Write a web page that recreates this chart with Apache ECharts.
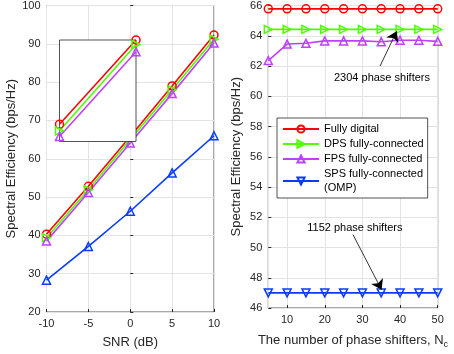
<!DOCTYPE html>
<html>
<head>
<meta charset="utf-8">
<script src="https://cdn.jsdelivr.net/npm/echarts@6/dist/echarts.min.js"></script>
<style>
  html, body { margin: 0; padding: 0; background: #fff; }
  #chart { width: 454px; height: 354px; }
</style>
</head>
<body>
<div id="chart"></div>
<script>
// left panel: SE vs SNR
const snr = [-10, -5, 0, 5, 10];
const fdSnr = [40.3, 52.8, 65.8, 79.0, 92.3];
const dpsSnr = [39.4, 51.9, 65.0, 78.0, 91.2];
const fpsSnr = [38.5, 51.2, 64.1, 77.0, 90.2];
const spsSnr = [28.3, 37.1, 46.3, 56.3, 66.0];

// magnified inset (local units)
const insetX = [0, 1];
const fdInset = [17, 100];
const dpsInset = [10.5, 95.5];
const fpsInset = [5, 88.5];

// right panel: SE vs number of phase shifters
const nc = [5, 10, 15, 20, 25, 30, 35, 40, 45, 50];
const fdNc = [65.78, 65.78, 65.78, 65.78, 65.78, 65.78, 65.78, 65.78, 65.78, 65.78];
const dpsNc = [64.42, 64.42, 64.42, 64.42, 64.42, 64.42, 64.42, 64.42, 64.42, 64.42];
const fpsNc = [62.36, 63.45, 63.5, 63.66, 63.66, 63.66, 63.6, 63.7, 63.7, 63.63];
const spsNc = [47.0, 47.0, 47.0, 47.0, 47.0, 47.0, 47.0, 47.0, 47.0, 47.0];

const names = ['Fully digital', 'DPS fully-connected', 'FPS fully-connected', 'SPS fully-connected\n(OMP)'];
const colors = ['#ff0000', '#4dff00', '#bf40ff', '#0a3cff'];

const txt = '#262626';
const gridCol = '#e3e3e3';
const font = 'Liberation Sans, Arial, sans-serif';

const chart = echarts.init(document.getElementById('chart'));

const pair = (xs, ys) => xs.map((x, i) => [x, ys[i]]);

function line(name, color, data, symbol, rotate, x, y, extra) {
  return Object.assign({
    type: 'line', name: name, data: data,
    xAxisIndex: x, yAxisIndex: y,
    symbol: symbol, symbolSize: 8, symbolRotate: rotate,
    showAllSymbol: true,
    lineStyle: { color: color, width: 1.6 },
    itemStyle: { color: 'rgba(255,255,255,0)', borderColor: color, borderWidth: 1.5 },
    emphasis: { disabled: true },
    animation: false, z: 3
  }, extra || {});
}

// arrow + text annotation
function note(text, from, to, at) {
  return {
    markLine: {
      silent: true, z: 10, symbol: ['none', 'arrow'], symbolSize: 10,
      label: { show: false },
      itemStyle: { color: '#000' },
      lineStyle: { color: '#000', width: 0.8, type: 'solid' },
      data: [[{ coord: from }, { coord: to }]]
    },
    markPoint: {
      silent: true, symbol: 'circle', symbolSize: 0,
      label: { show: true, position: 'inside', color: '#000', fontSize: 11, fontFamily: font, formatter: text },
      data: [{ coord: at }]
    }
  };
}

function valueAxis(idx, min, max, interval, name, gap, extra) {
  return Object.assign({
    type: 'value', gridIndex: idx, min: min, max: max, interval: interval,
    name: name, nameLocation: 'middle', nameGap: gap,
    nameTextStyle: { color: txt, fontSize: 13, fontFamily: font },
    axisLine: { show: false },
    axisTick: { show: true, inside: true, length: 3, lineStyle: { color: txt } },
    axisLabel: { color: txt, fontSize: 11, fontFamily: font, margin: 6 },
    splitLine: { show: true, lineStyle: { color: gridCol, width: 1 } }
  }, extra || {});
}

const option = {
  animation: false,
  backgroundColor: '#fff',
  grid: [
    { left: 46.5, top: 5, width: 167.5, height: 308, show: true, borderColor: txt, borderWidth: 0.8, backgroundColor: '#fff' },
    { left: 268.3, top: 5, width: 169.4, height: 308, show: true, borderColor: txt, borderWidth: 0.8, backgroundColor: '#fff' },
    { left: 59.5, top: 40, width: 76.5, height: 101.5, show: true, borderColor: txt, borderWidth: 0.8, backgroundColor: '#fff', zlevel: 1 }
  ],
  xAxis: [
    valueAxis(0, -10, 10, 5, 'SNR (dB)', 24),
    valueAxis(1, 5, 50, null, 'The number of phase shifters, N{sub|c}', 24, {
      splitNumber: 5,
      axisLabel: { color: txt, fontSize: 11, fontFamily: font, margin: 6, showMinLabel: false },
      nameTextStyle: { color: txt, fontSize: 13, fontFamily: font,
        rich: { sub: { fontSize: 9, fontFamily: font, color: txt, padding: [8, 0, 0, 0] } } }
    }),
    { type: 'value', gridIndex: 2, min: 0, max: 1, zlevel: 1,
      axisLine: { show: false }, axisTick: { show: false }, axisLabel: { show: false }, splitLine: { show: false } }
  ],
  yAxis: [
    valueAxis(0, 20, 100, 10, 'Spectral Efficiency (bps/Hz)', 29),
    valueAxis(1, 46, 66, 2, 'Spectral Efficiency (bps/Hz)', 25),
    { type: 'value', gridIndex: 2, min: 0, max: 100, zlevel: 1,
      axisLine: { show: false }, axisTick: { show: false }, axisLabel: { show: false }, splitLine: { show: false } }
  ],
  legend: {
    left: 277, top: 118, orient: 'vertical',
    data: names,
    itemWidth: 36, itemHeight: 9, itemGap: 1,
    padding: [4, 4, 3, 5],
    backgroundColor: '#fff', borderColor: txt, borderWidth: 0.8,
    textStyle: { color: '#000', fontSize: 11, fontFamily: font, lineHeight: 14 },
    selectedMode: false
  },
  series: [
    // right panel first so legend picks its markers
    line(names[0], colors[0], pair(nc, fdNc), 'circle', 0, 1, 1),
    line(names[1], colors[1], pair(nc, dpsNc), 'triangle', -90, 1, 1,
      note('2304 phase shifters', [34.7, 62.0], [39.1, 64.3], [35.2, 61.2])),
    line(names[2], colors[2], pair(nc, fpsNc), 'triangle', 0, 1, 1),
    line(names[3], colors[3], pair(nc, spsNc), 'triangle', 180, 1, 1,
      note('1152 phase shifters', [27.5, 50.85], [35.1, 47.2], [28, 51.3])),
    // left panel
    line(names[0], colors[0], pair(snr, fdSnr), 'circle', 0, 0, 0),
    line(names[1], colors[1], pair(snr, dpsSnr), 'triangle', -90, 0, 0),
    line(names[2], colors[2], pair(snr, fpsSnr), 'triangle', 0, 0, 0),
    line(names[3], colors[3], pair(snr, spsSnr), 'triangle', 0, 0, 0),
    // inset
    line(names[0], colors[0], pair(insetX, fdInset), 'circle', 0, 2, 2, { zlevel: 1, clip: false }),
    line(names[1], colors[1], pair(insetX, dpsInset), 'triangle', -90, 2, 2, { zlevel: 1, clip: false }),
    line(names[2], colors[2], pair(insetX, fpsInset), 'triangle', 0, 2, 2, { zlevel: 1, clip: false })
  ]
};

chart.setOption(option);
</script>
</body>
</html>
